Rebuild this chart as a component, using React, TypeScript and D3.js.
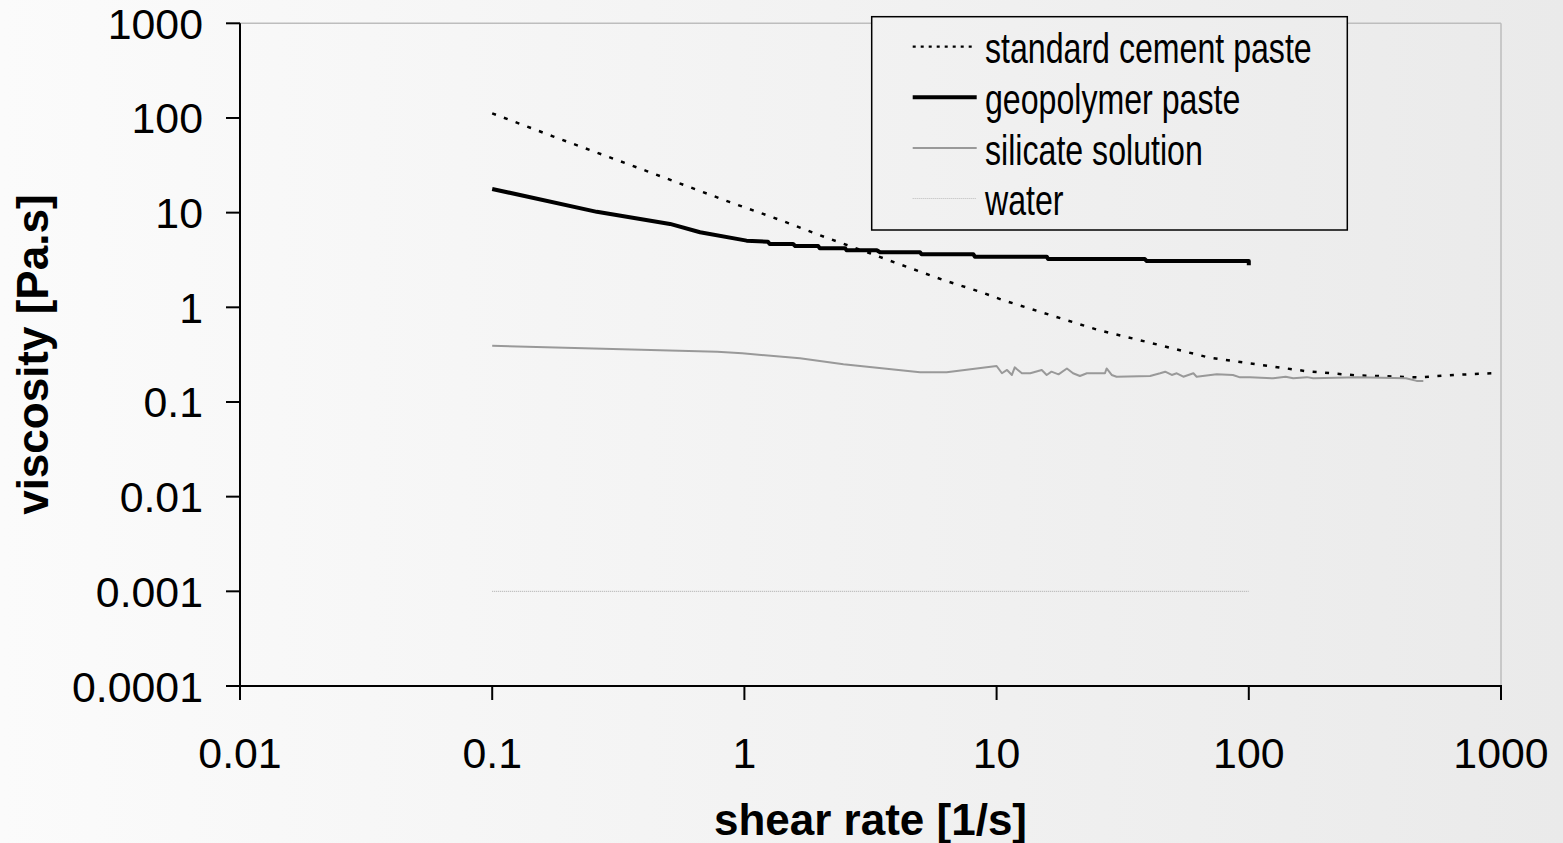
import React from 'react';
import * as d3 from 'd3';

const W = 1563;
const H = 843;

// ---- data ----
const cementShear = [0.1, 0.174, 0.41, 0.877, 1.38, 2.09, 3.15, 4.02, 6.15, 8.6, 10.6, 14.6, 25.3, 40, 69, 100, 170, 267, 471, 658, 918];
const cementVisc = [112, 64, 27.5, 12.9, 8.4, 5.5, 3.72, 2.92, 1.94, 1.46, 1.19, 0.91, 0.575, 0.427, 0.296, 0.257, 0.211, 0.191, 0.182, 0.193, 0.201];

const geoShear = [0.1, 0.26, 0.507, 0.667, 1.02, 1.24, 1.26, 1.56, 1.59, 1.96, 1.99, 2.51, 2.54, 3.35, 3.45, 4.97, 5.04, 8.09, 8.2, 15.8, 16.0, 38.7, 39.3, 100, 100];
const geoVisc = [17.8, 10.2, 7.6, 6.2, 5.06, 4.93, 4.67, 4.67, 4.45, 4.45, 4.21, 4.21, 4.0, 4.0, 3.81, 3.81, 3.63, 3.63, 3.43, 3.43, 3.24, 3.24, 3.09, 3.09, 2.78];

const silShear = [0.1, 0.78, 0.98, 1.66, 2.47, 4.97, 6.34, 10, 10.5, 11, 11.5, 11.8, 12.6, 13.6, 15.1, 15.8, 16.5, 17.6, 19.0, 20.1, 21.4, 22.8, 26.9, 27.3, 28.6, 29.9, 40.6, 44.5, 46.6, 49.5, 51.8, 55.0, 60.3, 62.1, 74.6, 86.5, 92.3, 101, 125, 140, 150, 170, 180, 270, 420, 463, 492];
const silVisc = [0.393, 0.34, 0.327, 0.29, 0.25, 0.206, 0.206, 0.24, 0.201, 0.218, 0.193, 0.232, 0.201, 0.201, 0.218, 0.193, 0.209, 0.196, 0.226, 0.201, 0.188, 0.201, 0.201, 0.226, 0.193, 0.185, 0.188, 0.201, 0.209, 0.193, 0.201, 0.185, 0.201, 0.185, 0.196, 0.193, 0.182, 0.182, 0.178, 0.185, 0.178, 0.183, 0.178, 0.182, 0.178, 0.167, 0.167];

const waterShear = [0.1, 100];
const waterVisc = [0.001, 0.001];

const xTicks = [0.01, 0.1, 1, 10, 100, 1000];
const xTickLabels = ['0.01', '0.1', '1', '10', '100', '1000'];
const yTicks = [1000, 100, 10, 1, 0.1, 0.01, 0.001, 0.0001];
const yTickLabels = ['1000', '100', '10', '1', '0.1', '0.01', '0.001', '0.0001'];

const legendNames = ['standard cement paste', 'geopolymer paste', 'silicate solution', 'water'];

const FONT = '"Liberation Sans", Arial, sans-serif';

export default function App() {
  const x = d3.scaleLog().domain([0.01, 1000]).range([240, 1501]);
  const y = d3.scaleLog().domain([0.0001, 1000]).range([686, 23.3]);
  const line = d3
    .line<[number, number]>()
    .x((d) => x(d[0]))
    .y((d) => y(d[1]));
  const zip = (a: number[], b: number[]) => a.map((v, i) => [v, b[i]] as [number, number]);

  const [x0, x1] = x.range();
  const [y0, y1] = y.range();

  const series = [
    { d: line(zip(cementShear, cementVisc)), stroke: '#000', width: 2.5, dash: '4 8.5' },
    { d: line(zip(geoShear, geoVisc)), stroke: '#000', width: 4, dash: undefined },
    { d: line(zip(silShear, silVisc)), stroke: '#999', width: 2, dash: undefined },
    { d: line(zip(waterShear, waterVisc)), stroke: '#aaa', width: 1, dash: '1 1' },
  ];
  const legendStyles = [
    { stroke: '#000', width: 2.2, dash: '3 5' },
    { stroke: '#000', width: 4, dash: undefined },
    { stroke: '#999', width: 2, dash: undefined },
    { stroke: '#bbb', width: 1, dash: '1 1' },
  ];

  const legendX = 871.7;
  const legendY = 16.7;
  const legendW = 475.6;
  const legendH = 213.3;

  return (
    <div style={{ position: 'absolute', left: 0, top: 0 }}>
      <svg width={W} height={H} style={{ display: 'block' }}>
        <defs>
          <linearGradient id="bg" gradientUnits="userSpaceOnUse" x1={0} y1={0} x2={W} y2={0}>
            <stop offset="0" stopColor="#fbfbfb" />
            <stop offset="1" stopColor="#eaeaea" />
          </linearGradient>
        </defs>
        <rect x={0} y={0} width={W} height={H} fill="url(#bg)" />

        {/* plot frame (top/right) */}
        <line x1={x0} x2={x1} y1={y1} y2={y1} stroke="#bdbdbd" strokeWidth={1.5} />
        <line x1={x1} x2={x1} y1={y1} y2={y0} stroke="#bdbdbd" strokeWidth={1.5} />

        {/* series */}
        {series.map((s, i) => (
          <path key={i} d={s.d || ''} fill="none" stroke={s.stroke} strokeWidth={s.width} strokeDasharray={s.dash} strokeLinejoin="round" />
        ))}

        {/* axes */}
        <line x1={x0} x2={x0} y1={y1} y2={y0 + 1} stroke="#000" strokeWidth={2} />
        <line x1={x0 - 1} x2={x1 + 1} y1={y0} y2={y0} stroke="#000" strokeWidth={2} />
        {yTicks.map((t, i) => (
          <g key={'y' + i}>
            <line x1={x0 - 14} x2={x0} y1={y(t)} y2={y(t)} stroke="#000" strokeWidth={2} />
            <g transform={`translate(${203},${y(t) + 15.5}) scale(1.02,1)`}>
              <text x={0} y={0} textAnchor="end" fontFamily={FONT} fontSize={42} fill="#000">
                {yTickLabels[i]}
              </text>
            </g>
          </g>
        ))}
        {xTicks.map((t, i) => (
          <g key={'x' + i}>
            <line x1={x(t)} x2={x(t)} y1={y0} y2={y0 + 14} stroke="#000" strokeWidth={2} />
            <g transform={`translate(${x(t)},${768}) scale(1.02,1)`}>
              <text x={0} y={0} textAnchor="middle" fontFamily={FONT} fontSize={42} fill="#000">
                {xTickLabels[i]}
              </text>
            </g>
          </g>
        ))}

        {/* axis titles */}
        <text x={(x0 + x1) / 2} y={835} textAnchor="middle" fontFamily={FONT} fontWeight="bold" fontSize={44} fill="#000">
          shear rate [1/s]
        </text>
        <text
          transform={`translate(48,${(y0 + y1) / 2}) rotate(-90)`}
          textAnchor="middle"
          fontFamily={FONT}
          fontWeight="bold"
          fontSize={44}
          fill="#000"
        >
          viscosity [Pa.s]
        </text>

        {/* legend */}
        <rect x={legendX} y={legendY} width={legendW} height={legendH} fill="url(#bg)" stroke="#000" strokeWidth={1.5} />
        {legendNames.map((name, i) => {
          const cy = 46.7 + i * 50.6;
          const st = legendStyles[i];
          return (
            <g key={'l' + i}>
              <line x1={912.7} x2={976.7} y1={cy} y2={cy} stroke={st.stroke} strokeWidth={st.width} strokeDasharray={st.dash} />
              <g transform={`translate(985,${cy + 16.6}) scale(0.765,1)`}>
                <text x={0} y={0} fontFamily={FONT} fontSize={42} fill="#000">
                  {name}
                </text>
              </g>
            </g>
          );
        })}
      </svg>
    </div>
  );
}
